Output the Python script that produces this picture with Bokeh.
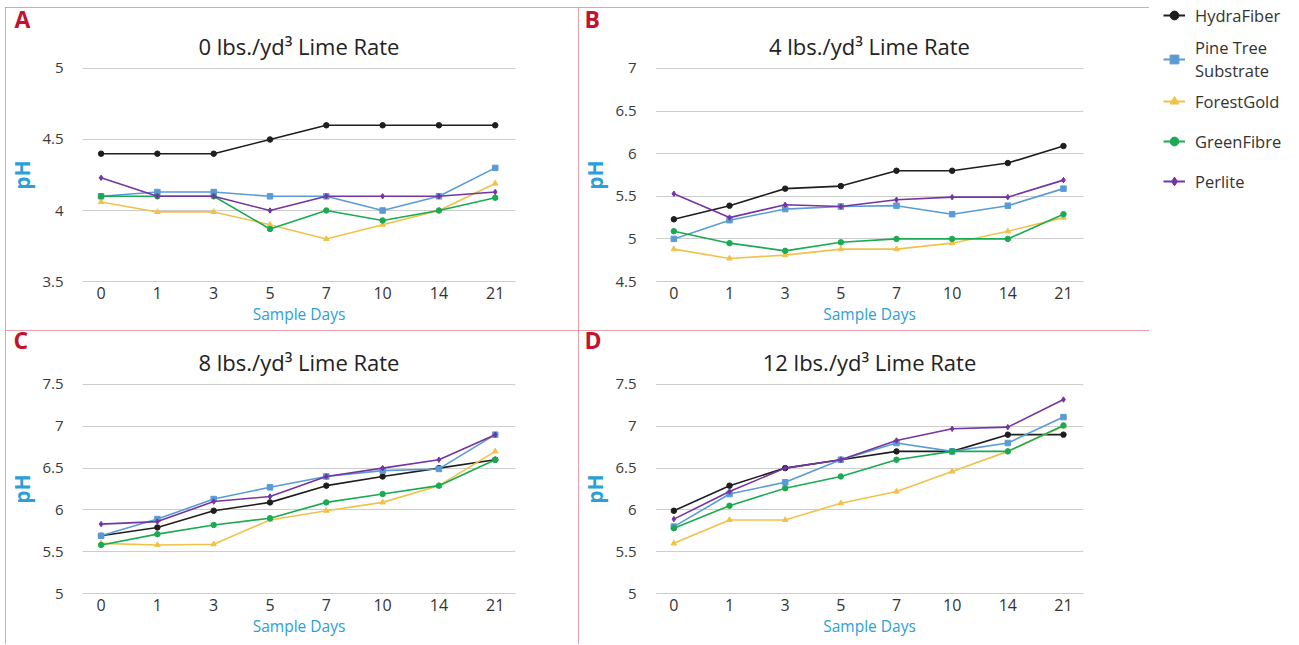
from bokeh.plotting import figure
from bokeh.models import Range1d, FixedTicker, Legend, LegendItem, Title
from bokeh.layouts import row, column
from bokeh.embed import file_html
from bokeh.resources import INLINE

# ---------------- data ----------------
days = ["0", "1", "3", "5", "7", "10", "14", "21"]
series_names = ["HydraFiber", "Pine Tree\nSubstrate", "ForestGold", "GreenFibre", "Perlite"]
series_colors = ["#1e1e1e", "#5b9bd5", "#f0c24a", "#1aab52", "#7434a4"]
series_markers = ["circle", "square", "triangle", "circle", "diamond"]

panel_letters = ["A", "B", "C", "D"]
panel_titles = ["0 lbs./yd³ Lime Rate", "4 lbs./yd³ Lime Rate",
                "8 lbs./yd³ Lime Rate", "12 lbs./yd³ Lime Rate"]
yticks_a = [3.5, 4, 4.5, 5]
yticks_b = [4.5, 5, 5.5, 6, 6.5, 7]
yticks_c = [5, 5.5, 6, 6.5, 7, 7.5]
yticks_d = [5, 5.5, 6, 6.5, 7, 7.5]

# panel A : 0 lbs lime
hydra_a = [4.40, 4.40, 4.40, 4.50, 4.60, 4.60, 4.60, 4.60]
pine_a = [4.10, 4.13, 4.13, 4.10, 4.10, 4.00, 4.10, 4.30]
gold_a = [4.06, 3.99, 3.99, 3.90, 3.80, 3.90, 4.00, 4.19]
green_a = [4.10, 4.10, 4.10, 3.87, 4.00, 3.93, 4.00, 4.09]
perl_a = [4.23, 4.10, 4.10, 4.00, 4.10, 4.10, 4.10, 4.13]

# panel B : 4 lbs lime
hydra_b = [5.23, 5.39, 5.59, 5.62, 5.80, 5.80, 5.89, 6.09]
pine_b = [5.00, 5.22, 5.35, 5.38, 5.39, 5.29, 5.39, 5.59]
gold_b = [4.88, 4.77, 4.81, 4.88, 4.88, 4.95, 5.09, 5.25]
green_b = [5.09, 4.95, 4.86, 4.96, 5.00, 5.00, 5.00, 5.29]
perl_b = [5.53, 5.25, 5.40, 5.38, 5.46, 5.49, 5.49, 5.69]

# panel C : 8 lbs lime
hydra_c = [5.69, 5.79, 5.99, 6.09, 6.29, 6.40, 6.50, 6.60]
pine_c = [5.69, 5.89, 6.13, 6.27, 6.40, 6.47, 6.49, 6.90]
gold_c = [5.60, 5.58, 5.59, 5.88, 5.99, 6.09, 6.29, 6.70]
green_c = [5.58, 5.71, 5.82, 5.90, 6.09, 6.19, 6.29, 6.60]
perl_c = [5.83, 5.86, 6.10, 6.16, 6.40, 6.50, 6.60, 6.90]

# panel D : 12 lbs lime
hydra_d = [5.99, 6.29, 6.50, 6.60, 6.70, 6.70, 6.90, 6.90]
pine_d = [5.80, 6.19, 6.33, 6.60, 6.80, 6.70, 6.80, 7.11]
gold_d = [5.60, 5.88, 5.88, 6.08, 6.22, 6.46, 6.70, 7.00]
green_d = [5.78, 6.05, 6.26, 6.40, 6.60, 6.70, 6.70, 7.01]
perl_d = [5.89, 6.22, 6.50, 6.60, 6.83, 6.97, 6.99, 7.32]

# ---------------- style ----------------
FONT = "Open Sans"
BLUE = "#2b9fd6"
BORDER = "#e67f89"
LETTER_RED = "#c4122e"


def make_panel(letter, title, yticks, ys, w, h, left, right, top, bottom,
               title_off, title_standoff, let_off, let_standoff):
    ylo, yhi = yticks[0], yticks[-1]
    frame_h = h - top - bottom
    pad = (yhi - ylo) / frame_h * 1.0
    xs = list(range(len(days)))
    p = figure(width=w, height=h, output_backend="svg", toolbar_location=None,
               x_range=Range1d(-0.33, len(days) - 1 + 0.36),
               y_range=Range1d(ylo - pad, yhi + pad),
               min_border_left=left, min_border_right=right,
               min_border_top=top, min_border_bottom=bottom,
               title=None,
               styles={"outline": "1px solid " + BORDER, "outline-offset": "-1px"})
    p.outline_line_color = None
    p.background_fill_color = "white"
    p.border_fill_color = "white"

    # chart title (nearest the plot area), then the panel letter above it
    p.add_layout(Title(text=title, align="center", standoff=title_standoff, offset=title_off,
                       text_font=FONT, text_font_size="22px", text_font_style="normal",
                       text_color="#222222"), "above")
    p.add_layout(Title(text=letter, align="left", offset=let_off, standoff=let_standoff,
                       text_font=FONT, text_font_size="23px", text_font_style="bold",
                       text_color=LETTER_RED), "above")

    p.xgrid.grid_line_color = None
    p.ygrid.grid_line_color = "#cdcdcd"
    p.ygrid.grid_line_width = 1

    xa = p.xaxis[0]
    xa.ticker = FixedTicker(ticks=xs)
    xa.major_label_overrides = {i: d for i, d in enumerate(days)}
    xa.axis_line_color = None
    xa.major_tick_line_color = None
    xa.minor_tick_line_color = None
    xa.major_label_text_font = FONT
    xa.major_label_text_font_size = "16px"
    xa.major_label_text_color = "#333333"
    xa.major_label_standoff = -2
    xa.axis_label = "Sample Days"
    xa.axis_label_text_font = FONT
    xa.axis_label_text_font_size = "15.5px"
    xa.axis_label_text_font_style = "normal"
    xa.axis_label_text_color = BLUE
    xa.axis_label_standoff = 1

    ya = p.yaxis[0]
    ya.ticker = FixedTicker(ticks=yticks)
    ya.major_label_overrides = {float(v): f"{v:g}" for v in yticks}
    ya.axis_line_color = None
    ya.major_tick_line_color = None
    ya.minor_tick_line_color = None
    ya.major_label_text_font = FONT
    ya.major_label_text_font_size = "15px"
    ya.major_label_text_color = "#3a3a3a"
    ya.major_label_standoff = 13
    ya.axis_label = "pH"
    ya.axis_label_text_font = FONT
    ya.axis_label_text_font_size = "21px"
    ya.axis_label_text_font_style = "bold"
    ya.axis_label_text_color = BLUE
    ya.axis_label_standoff = 3

    for vals, col, mk in zip(ys, series_colors, series_markers):
        p.line(x=xs, y=vals, line_color=col, line_width=1.6)
        p.scatter(x=xs, y=vals, marker=mk, size=5.5, fill_color=col, line_color=col)
    return p


W_L, W_R = 573, 571
H_TOP, H_BOT = 323, 314

pA = make_panel(panel_letters[0], panel_titles[0], yticks_a,
                [hydra_a, pine_a, gold_a, green_a, perl_a],
                W_L, H_TOP, 70, 63, 60, 48, -6, 13, -68, -25)
pB = make_panel(panel_letters[1], panel_titles[1], yticks_b,
                [hydra_b, pine_b, gold_b, green_b, perl_b],
                W_R, H_TOP, 65, 66, 60, 48, -15, 13, -71, -25)
pC = make_panel(panel_letters[2], panel_titles[2], yticks_c,
                [hydra_c, pine_c, gold_c, green_c, perl_c],
                W_L, H_BOT, 70, 63, 53, 50, -6, 13, -69, -35)
pD = make_panel(panel_letters[3], panel_titles[3], yticks_d,
                [hydra_d, pine_d, gold_d, green_d, perl_d],
                W_R, H_BOT, 65, 66, 53, 50, -15, 13, -71, -35)

# legend (two stacked legend boxes; proxies reuse panel A data, kept outside the visible range)
W_LEG = 1299 - 5 - W_L - W_R
legend_ys = [hydra_a, pine_a, gold_a, green_a, perl_a]


def legend_box(idx, h, spacing):
    f = figure(width=W_LEG, height=h, output_backend="svg", toolbar_location=None,
               x_range=Range1d(100, 101), y_range=Range1d(100, 101),
               min_border_left=14, min_border_right=0, min_border_top=0, min_border_bottom=0)
    f.outline_line_color = None
    f.axis.visible = False
    f.grid.visible = False
    its = []
    for i in idx:
        xs = list(range(len(days)))
        lr = f.line(x=xs, y=legend_ys[i], line_color=series_colors[i], line_width=2)
        sr = f.scatter(x=xs, y=legend_ys[i], marker=series_markers[i], size=8,
                       fill_color=series_colors[i], line_color=series_colors[i])
        its.append(LegendItem(label=series_names[i], renderers=[lr, sr]))
    lg = Legend(items=its, location="top_left", border_line_color=None,
                background_fill_alpha=0, padding=0, margin=0,
                label_height=30, glyph_height=30, glyph_width=22, spacing=spacing,
                label_standoff=10, label_text_font=FONT, label_text_font_size="16.5px",
                label_text_color="#333333")
    f.add_layout(lg, "center")
    return f


pL1 = legend_box([0, 1], 86, 6)
pL2 = legend_box([2, 3, 4], 140, 10)

panels = column(row(pA, pB), row(pC, pD), margin=(7, 0, 0, 5))
layout = row(panels, column(pL1, pL2))
open("out.html", "w").write(file_html(layout, INLINE))
